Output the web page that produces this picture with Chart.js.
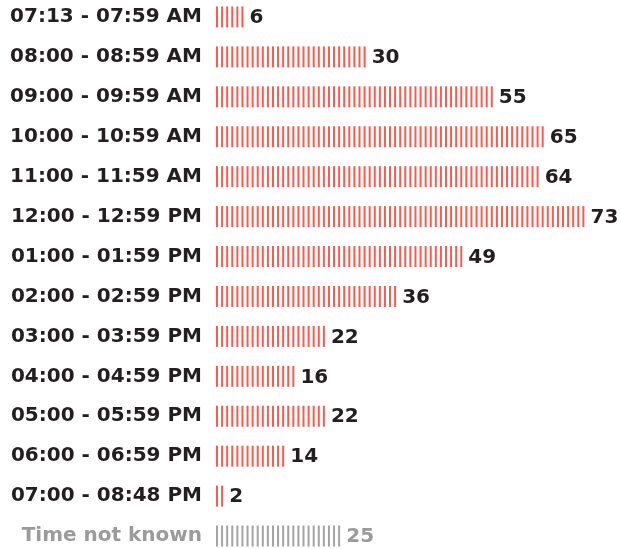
<!DOCTYPE html>
<html>
<head>
<meta charset="utf-8">
<script src="https://cdn.jsdelivr.net/npm/chart.js@4/dist/chart.umd.min.js"></script>
<style>
  html, body { margin: 0; padding: 0; background: #fff; overflow: hidden; }
  #wrap { position: absolute; left: 0; top: -3px; width: 621px; height: 559px; }
</style>
</head>
<body>
<div id="wrap"><canvas id="myChart"></canvas></div>
<script>
var timeSlots = [
    '07:13 - 07:59 AM',
    '08:00 - 08:59 AM',
    '09:00 - 09:59 AM',
    '10:00 - 10:59 AM',
    '11:00 - 11:59 AM',
    '12:00 - 12:59 PM',
    '01:00 - 01:59 PM',
    '02:00 - 02:59 PM',
    '03:00 - 03:59 PM',
    '04:00 - 04:59 PM',
    '05:00 - 05:59 PM',
    '06:00 - 06:59 PM',
    '07:00 - 08:48 PM',
    'Time not known'
];
var counts = [6, 30, 55, 65, 64, 73, 49, 36, 22, 16, 22, 14, 2, 25];

var redLine = '#fb5a4e';
var greyLine = '#a4a4a4';
var darkText = '#231f20';
var greyText = '#9b9b9b';
var labelFont = 'bold 20px "DejaVu Sans"';

function isUnknown(i) {
    return timeSlots[i] === 'Time not known';
}

// draws one thin stripe per counted unit, then the count after the bar
var stripes = {
    id: 'stripes',
    afterDatasetsDraw: function (chart) {
        var ctx = chart.ctx;
        var xs = chart.scales.x;
        var meta = chart.getDatasetMeta(0);
        meta.data.forEach(function (bar, i) {
            var p = bar.getProps(['y', 'height'], true);
            var v = counts[i];
            ctx.save();
            ctx.fillStyle = isUnknown(i) ? greyLine : redLine;
            for (var k = 0; k < v; k++) {
                var x = xs.getPixelForValue(k);
                ctx.fillRect(x, p.y - p.height / 2, 2, p.height);
            }
            ctx.fillStyle = isUnknown(i) ? greyText : darkText;
            ctx.font = labelFont;
            ctx.textBaseline = 'middle';
            ctx.textAlign = 'left';
            ctx.fillText(String(v), xs.getPixelForValue(v) + 3, p.y + 1);
            ctx.restore();
        });
    }
};

var ctx = document.getElementById('myChart').getContext('2d');
var myChart = new Chart(ctx, {
    type: 'bar',
    data: {
        labels: timeSlots,
        datasets: [{
            data: counts,
            backgroundColor: 'rgba(0,0,0,0)',
            borderWidth: 0,
            barThickness: 21
        }]
    },
    options: {
        indexAxis: 'y',
        responsive: true,
        maintainAspectRatio: false,
        animation: false,
        layout: { padding: { top: 0, bottom: 0, left: 0, right: 3 } },
        plugins: {
            legend: { display: false },
            tooltip: { enabled: false }
        },
        scales: {
            x: {
                type: 'linear',
                min: 0,
                max: 79,
                display: false
            },
            y: {
                grid: { display: false, drawTicks: true, tickLength: 14 },
                border: { display: false },
                ticks: {
                    padding: 0,
                    font: { family: 'DejaVu Sans', size: 20, weight: 'bold' },
                    color: function (c) {
                        return isUnknown(c.index) ? greyText : darkText;
                    }
                },
                afterFit: function (scale) {
                    scale.width = 216;
                    scale.paddingTop = 0;
                    scale.paddingBottom = 0;
                }
            }
        }
    },
    plugins: [stripes]
});
</script>
</body>
</html>
